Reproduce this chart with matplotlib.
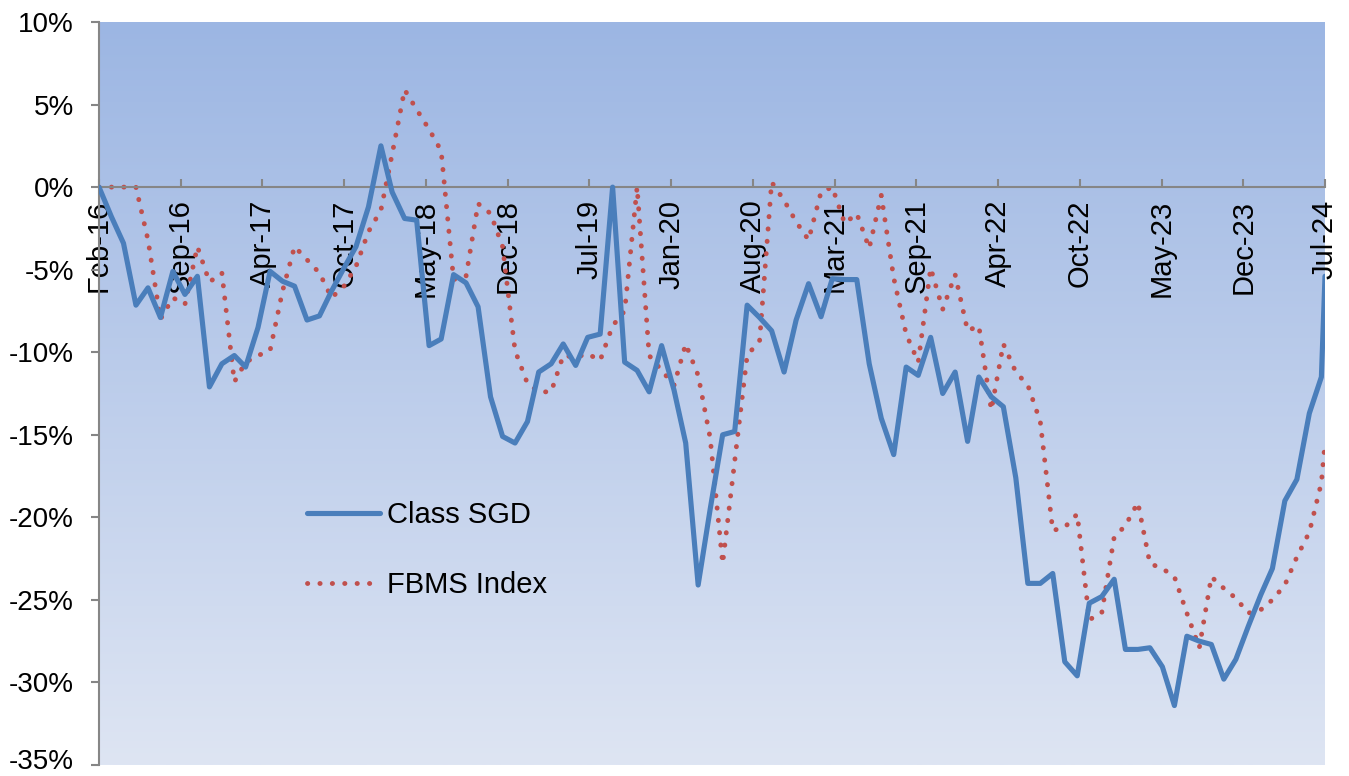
import numpy as np
import pandas as pd
import matplotlib
matplotlib.use("Agg")
import matplotlib.pyplot as plt
import matplotlib.dates as mdates
from matplotlib.ticker import FixedLocator, FixedFormatter, FuncFormatter
from matplotlib.transforms import ScaledTranslation

plt.rcParams["font.family"] = ["Liberation Sans", "DejaVu Sans"]

# Month-end observation dates plus the final intra-month reading
dates = list(pd.date_range("2016-02-29", periods=101, freq="ME")) + [pd.Timestamp("2024-07-09")]

# Cumulative performance, %
class_sgd = [
    0.0, -1.8, -3.4, -7.15, -6.1, -7.9, -5.1, -6.5, -5.4, -12.1,
    -10.7, -10.2, -10.9, -8.5, -5.1, -5.7, -6.0, -8.05, -7.8, -6.3,
    -4.9, -3.6, -1.2, 2.5, -0.3, -1.9, -2.0, -9.6, -9.2, -5.3,
    -5.8, -7.25, -12.7, -15.1, -15.5, -14.2, -11.2, -10.7, -9.5, -10.8,
    -9.1, -8.9, 0.0, -10.6, -11.1, -12.4, -9.6, -12.3, -15.5, -24.1,
    -19.5, -15.0, -14.8, -7.15, -7.9, -8.7, -11.2, -8.05, -5.85, -7.85,
    -5.55, -5.6, -5.6, -10.7, -14.0, -16.2, -10.9, -11.4, -9.1, -12.5,
    -11.2, -15.4, -11.5, -12.7, -13.3, -17.6, -24.0, -24.0, -23.4, -28.75,
    -29.6, -25.2, -24.8, -23.75, -28.0, -28.0, -27.9, -29.05, -31.4, -27.2,
    -27.5, -27.7, -29.8, -28.6, -26.6, -24.7, -23.1, -19.0, -17.7, -13.7,
    -11.5, -5.4,
]
fbms_index = [
    0.0, 0.0, 0.0, 0.0, -3.2, -8.0, -6.7, -7.1, -3.6, -5.75,
    -5.2, -11.8, -10.6, -10.2, -9.9, -6.3, -3.6, -4.4, -5.2, -6.7,
    -6.0, -4.8, -2.7, -1.4, 2.0, 5.9, 4.7, 3.5, 2.2, -5.6,
    -5.4, -1.0, -1.6, -3.6, -9.9, -11.9, -12.4, -12.4, -10.2, -10.3,
    -10.1, -10.5, -8.4, -7.5, 0.0, -10.2, -11.1, -12.0, -9.5, -11.4,
    -15.2, -22.8, -16.6, -10.2, -9.3, 0.3, -0.8, -2.1, -3.2, -0.3,
    0.0, -2.2, -1.6, -3.7, -0.5, -5.5, -8.9, -10.6, -4.9, -7.4,
    -5.3, -8.7, -8.4, -13.5, -9.5, -11.2, -12.0, -14.2, -20.8, -20.6,
    -19.8, -26.2, -25.8, -21.2, -20.5, -19.1, -22.8, -23.1, -23.6, -25.8,
    -27.9, -23.6, -24.3, -24.9, -25.8, -25.6, -25.0, -24.1, -22.4, -20.9,
    -17.9, -15.5,
]
series_names = ["Class SGD", "FBMS Index"]
date_labels = ["Feb-16", "Sep-16", "Apr-17", "Oct-17", "May-18", "Dec-18", "Jul-19", "Jan-20",
               "Aug-20", "Mar-21", "Sep-21", "Apr-22", "Oct-22", "May-23", "Dec-23", "Jul-24"]
y_ticks = [-35, -30, -25, -20, -15, -10, -5, 0, 5, 10]

W, H = 1349, 776
fig = plt.figure(figsize=(W / 100, H / 100), dpi=100)
ax = fig.add_axes([99 / W, 1 - 765 / H, (1325 - 99) / W, (765 - 22) / H])

x = mdates.date2num(dates)
x0, x1 = x[0], x[-1]

# Vertical gradient fill behind the plot
grad = np.linspace(0, 1, 256).reshape(-1, 1)
top = np.array([156, 182, 227]) / 255
bottom = np.array([222, 229, 243]) / 255
img = top[None, None, :] * (1 - grad[:, :, None]) + bottom[None, None, :] * grad[:, :, None]
ax.imshow(img, extent=[x0, x1, -35, 10], aspect="auto", zorder=0, origin="upper")

ax.plot(x, class_sgd, color="#4A7EBB", lw=3.7, solid_joinstyle="round",
        solid_capstyle="round", label=series_names[0], zorder=3)
ax.plot(x, fbms_index, color="#C0504D", lw=3.5, linestyle=(0, (0.05, 2.5)),
        dash_capstyle="round", label=series_names[1], zorder=2)

ax.set_xlim(x0, x1)
ax.set_ylim(-35, 10)

grey = "#868686"
for s in ["top", "right"]:
    ax.spines[s].set_visible(False)
ax.spines["left"].set_color(grey)
ax.spines["left"].set_linewidth(1.5)
ax.spines["bottom"].set_position(("data", 0))
ax.spines["bottom"].set_color(grey)
ax.spines["bottom"].set_linewidth(1.5)

ax.yaxis.set_major_locator(FixedLocator(y_ticks))
ax.yaxis.set_major_formatter(FuncFormatter(lambda v, p: f"{v:.0f}%"))
ax.tick_params(axis="y", direction="out", length=6, width=1.5, color=grey,
               labelsize=20, pad=12)

ax.xaxis.set_major_locator(FixedLocator(np.linspace(x0, x1, len(date_labels))))
ax.xaxis.set_major_formatter(FixedFormatter(date_labels))
ax.tick_params(axis="x", direction="in", length=6, width=1.5, color=grey,
               labelsize=21, pad=9)
for lbl in ax.get_xticklabels():
    lbl.set_rotation(90)
    lbl.set_va("top")
    lbl.set_ha("center")

leg = ax.legend(loc="center left", bbox_to_anchor=(307 / W, 1 - 550 / H),
                bbox_transform=fig.transFigure, frameon=False, fontsize=21,
                handlelength=2.5, handletextpad=0.25, labelspacing=1.45,
                borderpad=0, borderaxespad=0)

# Keep the lowest percentage label inside the canvas
fig.canvas.draw()
low = ax.yaxis.get_major_ticks()[0].label1
low.set_transform(low.get_transform() + ScaledTranslation(0, 6 / 100, fig.dpi_scale_trans))

fig.savefig("out.png", dpi=100)
